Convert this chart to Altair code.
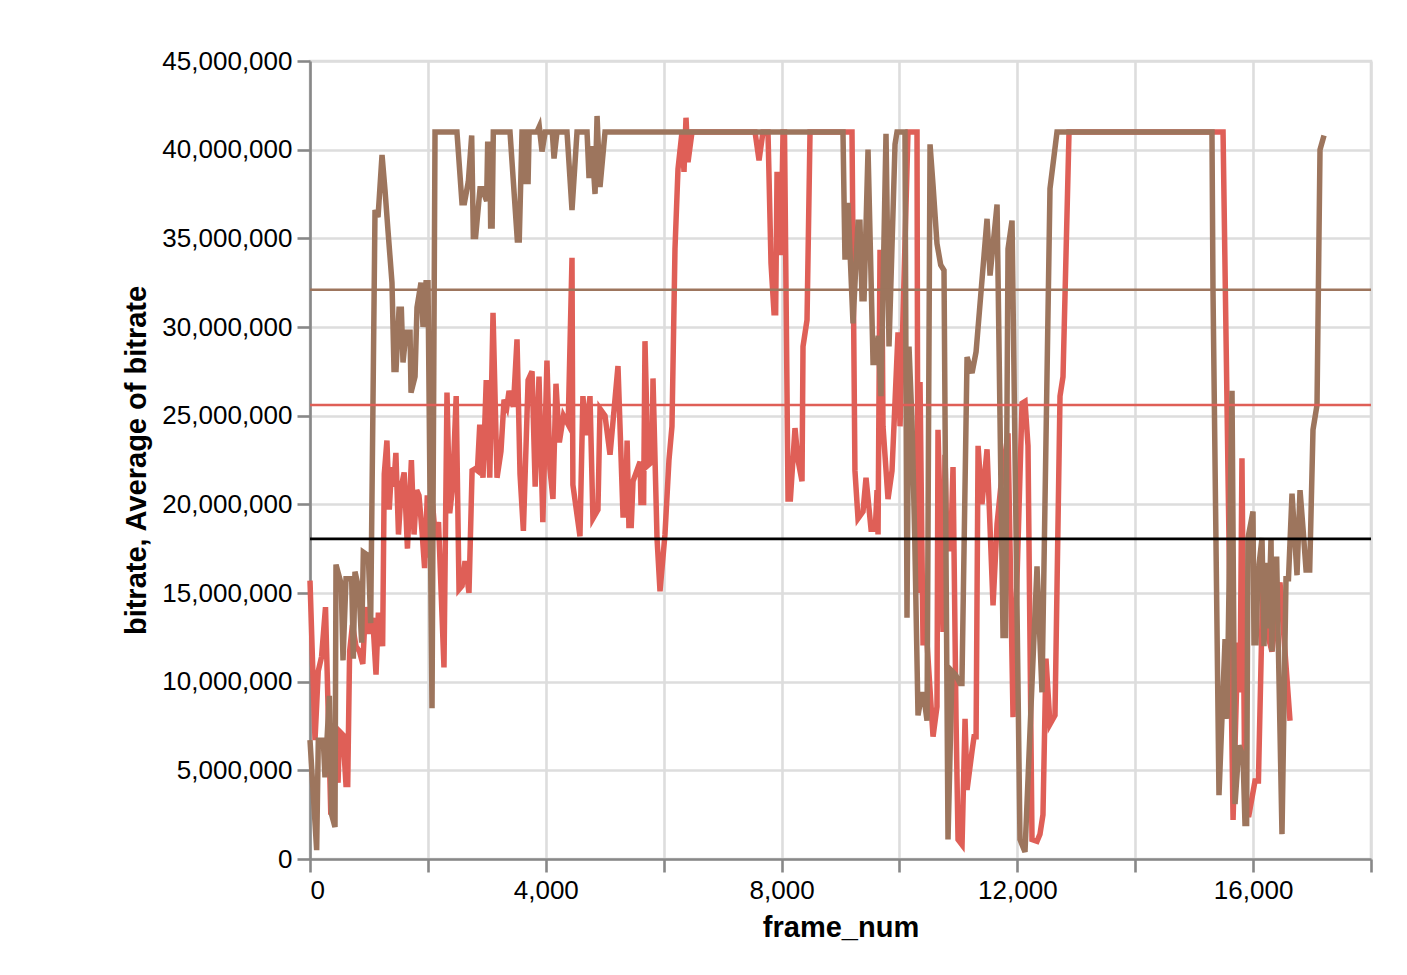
import altair as alt
import pandas as pd

# ---- data (frame number, bitrate in millions of bits/s) ----
red_frame = [0, 85, 140, 196, 263, 353, 420, 476, 500, 560, 610, 640, 672, 720, 780, 840, 896, 941,
             1008, 1064, 1120, 1160, 1232, 1260, 1305, 1345, 1384, 1420, 1457, 1501, 1550, 1597, 1653,
             1720, 1765, 1810, 1849, 1900, 1944, 1990, 2030, 2080, 2130, 2180, 2273, 2324, 2370, 2420,
             2480, 2528, 2580, 2630, 2697, 2750, 2800, 2840, 2880, 2935, 2990, 3050, 3105, 3173, 3240,
             3292, 3340, 3377, 3450, 3512, 3563, 3620, 3700, 3767, 3820, 3885, 3950, 4020, 4070, 4122,
             4173, 4230, 4300, 4380, 4445, 4460, 4580, 4630, 4683, 4750, 4800, 4885, 4920, 5005, 5090,
             5225, 5310, 5350, 5380, 5410, 5450, 5480, 5600, 5615, 5660, 5683, 5734, 5802, 5819, 5887,
             5938, 6022, 6090, 6141, 6192, 6243, 6311, 6345, 6379, 6413, 6481, 6514, 7550, 7618, 7685,
             7770, 7821, 7872, 7900, 7923, 7950, 7974, 7990, 8025, 8050, 8110, 8150, 8228, 8279, 8347,
             8364, 8432, 8483, 9195, 9245, 9297, 9382, 9433, 9518, 9590, 9620, 9637, 9670, 9700, 9721,
             9806, 9874, 9976, 10010, 10145, 10298, 10315, 10349, 10400, 10468, 10570, 10637, 10654,
             10739, 10773, 10807, 10870, 10909, 10960, 10994, 11062, 11113, 11147, 11232, 11266, 11300,
             11334, 11400, 11486, 11588, 11656, 11720, 11842, 11927, 12080, 12130, 12181, 12249, 12334,
             12384, 12435, 12486, 12554, 12639, 12724, 12775, 12877, 15490, 15660, 15740, 15778, 15811,
             15862, 15930, 16032, 16090, 16168, 16236, 16320, 16456, 16626]
red_mbps = [15.7, 6.7, 10.6, 11.4, 14.2, 2.5, 6.5, 4.3, 7.2, 7.0, 4.2, 4.2, 11.7, 13.2, 12.0, 11.7, 11.0, 14.2,
            12.7, 13.6, 10.4, 13.9, 12.0, 21.7, 23.6, 19.7, 22.1, 21.0, 22.9, 18.3, 21.0, 21.8, 17.5,
            22.5, 18.3, 20.8, 20.5, 18.5, 16.4, 20.5, 17.0, 20.0, 18.0, 19.0, 10.8, 26.3, 19.5, 21.0,
            26.1, 15.2, 15.4, 16.8, 15.0, 21.9, 22.0, 21.9, 24.5, 21.5, 27.0, 21.5, 30.8, 21.5, 23.0,
            25.9, 25.5, 26.4, 25.5, 29.3, 21.7, 18.5, 27.0, 27.5, 21.0, 27.2, 19.0, 28.1, 22.0, 20.3,
            26.8, 23.5, 25.0, 24.5, 33.9, 21.1, 18.2, 26.1, 23.9, 26.1, 19.2, 19.7, 25.4, 25.0, 22.8,
            27.8, 19.4, 19.4, 23.6, 18.8, 18.8, 21.3, 22.4, 20.1, 20.1, 29.2, 22.2, 22.4, 27.1, 18.1,
            15.1, 18.3, 22.5, 24.4, 34.4, 38.9, 41.0, 38.75, 41.8, 39.3, 41.0, 41.0, 41.0, 39.4, 41.0,
            41.0, 33.6, 30.8, 30.8, 38.6, 38.6, 34.2, 34.2, 41.0, 41.0, 20.3, 20.3, 24.3, 22.5, 21.3,
            28.9, 30.4, 41.0, 41.0, 21.9, 19.2, 19.6, 21.5, 18.6, 18.6, 20.8, 18.3, 34.2, 34.2, 24.4,
            20.3, 21.9, 29.7, 24.4, 41.0, 41.0, 15.0, 26.9, 12.2, 12.2, 6.9, 8.6, 24.2,
            12.8, 22.8, 17.5, 17.5, 22.1, 7.9, 1.1, 0.8, 7.9, 3.9, 6.1, 6.9, 6.9,
            23.3, 20.0, 23.1, 14.3, 18.9, 21.0, 24.0, 8.0, 25.7, 25.8, 23.3, 1.1, 1.0,
            1.4, 2.5, 11.3, 7.6, 8.1, 26.1, 27.2, 41.0, 41.0, 2.2, 12.2, 9.4, 22.6,
            2.5, 2.5, 4.4, 4.4, 16.1, 12.8, 11.7, 15.6, 7.8]

brown_frame = [0, 113, 141, 226, 254, 328, 367, 424, 441, 530, 560, 611, 707, 735, 763, 830, 876, 905,
               990, 1029, 1103, 1154, 1222, 1273, 1324, 1391, 1425, 1460, 1510, 1550, 1578, 1629, 1697,
               1714, 1782, 1815, 1883, 1917, 1968, 2002, 2070, 2121, 2493, 2578, 2620, 2686, 2743, 2771,
               2810, 2884, 2920, 2997, 3014, 3050, 3065, 3090, 3110, 3393, 3517, 3550, 3597, 3630, 3664,
               3700, 3717, 3850, 3890, 3936, 3990, 4110, 4140, 4190, 4360, 4445, 4530, 4700, 4734, 4785,
               4836, 4870, 4920, 5005, 9042, 9076, 9127, 9212, 9297, 9330, 9365, 9400, 9467, 9552, 9600,
               9640, 9687, 9772, 9823, 9860, 9925, 9959, 10094, 10128, 10162, 10213, 10260, 10315, 10383,
               10420, 10468, 10519, 10570, 10637, 10700, 10756, 10824, 10892, 10950, 11028, 11060, 11147,
               11232, 11300, 11486, 11537, 11656, 11757, 11800, 11842, 11910, 12045, 12130, 12250, 12334,
               12418, 12554, 12673, 15302, 15319, 15421, 15524, 15557, 15642, 15693, 15761, 15829, 15862,
               15890, 15913, 15998, 16015, 16050, 16083, 16151, 16185, 16219, 16260, 16304, 16320, 16338,
               16400, 16490, 16558, 16600, 16660, 16700, 16745, 16796, 16850, 16898, 16960, 17016, 17084,
               17135, 17203]
brown_mbps = [6.7, 0.5, 6.7, 6.7, 4.6, 9.2, 2.5, 1.8, 16.6, 15.5, 11.2, 15.8, 15.8, 11.3, 16.2, 15.2, 12.2, 17.3,
              17.1, 13.3, 36.6, 36.2, 39.7, 37.7, 35.4, 32.5, 27.6, 27.6, 31.0, 31.0, 28.0, 29.7, 29.7,
              26.3, 27.2, 31.1, 32.5, 30.0, 32.5, 32.5, 8.5, 41.0, 41.0, 37.0, 37.0, 38.2, 40.8, 35.1,
              35.1, 37.8, 37.8, 37.1, 40.3, 40.3, 35.7, 35.7, 41.0, 41.0, 34.9, 34.9, 41.0, 41.0, 38.2,
              38.2, 41.0, 41.0, 41.3, 39.9, 41.0, 41.0, 39.5, 41.0, 41.0, 36.6, 41.0, 41.0, 38.4, 40.2,
              37.5, 41.9, 37.9, 41.0, 41.0, 33.8, 37.0, 30.2, 35.9, 35.9, 31.6, 31.6, 40.0, 28.0, 28.0,
              29.5, 26.1, 40.9, 28.9, 33.0, 40.3, 41.0, 41.0, 13.6, 28.9, 24.7, 18.0, 8.1, 9.4,
              9.0, 7.8, 40.3, 38.0, 34.7, 33.5, 33.2, 1.1, 10.6, 10.4, 9.9, 9.9, 28.3,
              27.4, 28.6, 36.1, 32.9, 36.9, 12.6, 12.6, 34.4, 36.0, 1.1, 0.4, 10.0, 16.5,
              9.4, 37.8, 41.0, 41.0, 32.2, 3.6, 12.4, 7.9, 26.4, 3.1, 6.4, 5.8, 2.0,
              2.0, 18.1, 19.6, 12.2, 12.2, 16.1, 18.1, 12.0, 16.7, 13.0, 18.1, 11.7, 16.9,
              16.9, 1.4, 15.8, 15.8, 20.6, 18.5, 16.0, 20.8, 18.5, 16.3, 16.3, 24.2, 25.6,
              40.0, 40.8]

series_names = ["red", "brown"]
series_colors = ["#df5f57", "#9d755d"]
average_mbps = [25.6, 32.1]      # average of bitrate per series
target_mbps = [18.05]            # black reference line

lines = pd.concat([
    pd.DataFrame({"frame_num": red_frame, "bitrate": [v * 1e6 for v in red_mbps], "series": "red"}),
    pd.DataFrame({"frame_num": brown_frame, "bitrate": [v * 1e6 for v in brown_mbps], "series": "brown"}),
], ignore_index=True)
avgs = pd.DataFrame({"series": series_names, "bitrate": [v * 1e6 for v in average_mbps]})
target = pd.DataFrame({"bitrate": [v * 1e6 for v in target_mbps]})

xscale = alt.Scale(domain=[0, 18000], nice=False)
yscale = alt.Scale(domain=[0, 45000000], nice=False)
cscale = alt.Scale(domain=series_names, range=series_colors)

x_axis = alt.Axis(values=list(range(0, 18001, 2000)),
                  labelExpr="datum.value % 4000 == 0 ? format(datum.value, ',') : ''",
                  title="frame_num")
y_axis = alt.Axis(values=list(range(0, 45000001, 5000000)),
                  labelExpr="format(datum.value, ',')",
                  title="bitrate, Average of bitrate")

base_lines = alt.Chart(lines).mark_line(strokeWidth=5.5).encode(
    x=alt.X("frame_num:Q", scale=xscale, axis=x_axis),
    y=alt.Y("bitrate:Q", scale=yscale, axis=y_axis),
    color=alt.Color("series:N", scale=cscale, legend=None),
)

avg_rules = alt.Chart(avgs).mark_rule(strokeWidth=2.6).encode(
    y=alt.Y("bitrate:Q", scale=yscale, axis=y_axis),
    color=alt.Color("series:N", scale=cscale, legend=None),
)

target_rule = alt.Chart(target).mark_rule(strokeWidth=2.6, color="black").encode(
    y=alt.Y("bitrate:Q", scale=yscale, axis=y_axis),
)

chart = alt.layer(base_lines, avg_rules, target_rule).properties(
    width=1061,
    height=798,
    padding={"left": 302, "top": 53, "right": 28, "bottom": 90},
    autosize=alt.AutoSizeParams(type="none"),
).configure_axis(
    labelFont="Liberation Sans",
    titleFont="Liberation Sans",
    labelFontSize=26,
    titleFontSize=29,
    labelColor="black",
    titleColor="black",
    gridColor="#dddddd",
    gridWidth=2.6,
    domainColor="#888888",
    domainWidth=2.6,
    tickColor="#888888",
    tickWidth=2.6,
    tickSize=13,
    labelPadding=5,
    titlePadding=10,
).configure_view(stroke="#dddddd", strokeWidth=2.6)

chart.save("out.html", embed_options={"renderer": "svg", "actions": False})
